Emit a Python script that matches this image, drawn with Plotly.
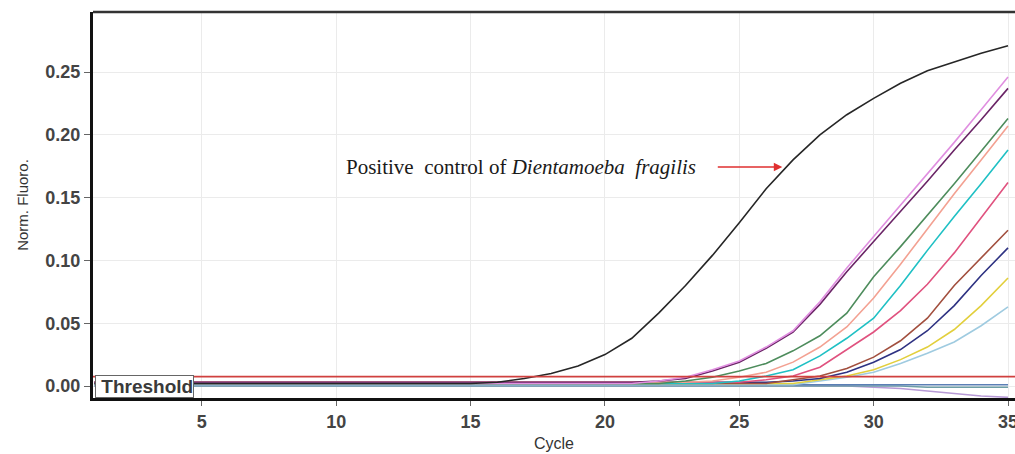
import plotly.graph_objects as go

cycles = list(range(1, 36))

THRESHOLD = 0.0075

positive_control = [0.002, 0.002, 0.002, 0.002, 0.002, 0.002, 0.002, 0.002, 0.002, 0.002,
                    0.002, 0.002, 0.002, 0.002, 0.002, 0.003, 0.006, 0.010, 0.016, 0.025,
                    0.038, 0.058, 0.080, 0.104, 0.130, 0.157, 0.180, 0.200, 0.216, 0.229,
                    0.241, 0.251, 0.258, 0.265, 0.271]

s_pink = [0.002, 0.002, 0.002, 0.002, 0.002, 0.002, 0.002, 0.002, 0.002, 0.002,
          0.002, 0.002, 0.002, 0.002, 0.002, 0.002, 0.002, 0.002, 0.002, 0.002,
          0.002, 0.004, 0.007, 0.013, 0.020, 0.031, 0.044, 0.067, 0.094, 0.119,
          0.144, 0.169, 0.194, 0.220, 0.246]
s_purple = [0.003, 0.003, 0.003, 0.003, 0.003, 0.003, 0.003, 0.003, 0.003, 0.003,
            0.003, 0.003, 0.003, 0.003, 0.003, 0.003, 0.003, 0.003, 0.003, 0.003,
            0.003, 0.004, 0.006, 0.012, 0.019, 0.030, 0.043, 0.065, 0.091, 0.115,
            0.139, 0.163, 0.188, 0.212, 0.237]
s_green = [0.002, 0.002, 0.002, 0.002, 0.002, 0.002, 0.002, 0.002, 0.002, 0.002,
           0.002, 0.002, 0.002, 0.002, 0.002, 0.002, 0.002, 0.002, 0.002, 0.002,
           0.002, 0.002, 0.004, 0.007, 0.012, 0.018, 0.028, 0.040, 0.058, 0.087,
           0.111, 0.136, 0.161, 0.187, 0.213]
s_salmon = [0.003, 0.003, 0.003, 0.003, 0.003, 0.003, 0.003, 0.003, 0.003, 0.003,
            0.003, 0.003, 0.003, 0.003, 0.003, 0.003, 0.003, 0.003, 0.003, 0.003,
            0.003, 0.003, 0.003, 0.004, 0.007, 0.011, 0.019, 0.031, 0.047, 0.070,
            0.097, 0.125, 0.153, 0.180, 0.207]
s_cyan = [0.002, 0.002, 0.002, 0.002, 0.002, 0.002, 0.002, 0.002, 0.002, 0.002,
          0.002, 0.002, 0.002, 0.002, 0.002, 0.002, 0.002, 0.002, 0.002, 0.002,
          0.002, 0.002, 0.002, 0.002, 0.004, 0.008, 0.013, 0.024, 0.038, 0.054,
          0.080, 0.108, 0.135, 0.161, 0.188]
s_pinkred = [0.003, 0.003, 0.003, 0.003, 0.003, 0.003, 0.003, 0.003, 0.003, 0.003,
             0.003, 0.003, 0.003, 0.003, 0.003, 0.003, 0.003, 0.003, 0.003, 0.003,
             0.003, 0.003, 0.003, 0.003, 0.003, 0.005, 0.008, 0.015, 0.029, 0.043,
             0.060, 0.081, 0.106, 0.134, 0.162]
s_brown = [0.002, 0.002, 0.002, 0.002, 0.002, 0.002, 0.002, 0.002, 0.002, 0.002,
           0.002, 0.002, 0.002, 0.002, 0.002, 0.002, 0.002, 0.002, 0.002, 0.002,
           0.002, 0.002, 0.002, 0.002, 0.002, 0.002, 0.005, 0.008, 0.014, 0.023,
           0.036, 0.054, 0.080, 0.102, 0.124]
s_navy = [0.003, 0.003, 0.003, 0.003, 0.003, 0.003, 0.003, 0.003, 0.003, 0.003,
          0.003, 0.003, 0.003, 0.003, 0.003, 0.003, 0.003, 0.003, 0.003, 0.003,
          0.003, 0.003, 0.003, 0.003, 0.003, 0.003, 0.004, 0.006, 0.011, 0.019,
          0.029, 0.044, 0.064, 0.088, 0.110]
s_yellow = [0.002, 0.002, 0.002, 0.002, 0.002, 0.002, 0.002, 0.002, 0.002, 0.002,
            0.002, 0.002, 0.002, 0.002, 0.002, 0.002, 0.002, 0.002, 0.002, 0.002,
            0.002, 0.002, 0.002, 0.002, 0.002, 0.002, 0.002, 0.005, 0.008, 0.013,
            0.021, 0.031, 0.045, 0.064, 0.086]
s_lightblue = [0.001, 0.001, 0.001, 0.001, 0.001, 0.001, 0.001, 0.001, 0.001, 0.001,
               0.001, 0.001, 0.001, 0.001, 0.001, 0.001, 0.001, 0.001, 0.001, 0.001,
               0.001, 0.001, 0.001, 0.001, 0.001, 0.001, 0.001, 0.004, 0.007, 0.011,
               0.018, 0.026, 0.035, 0.048, 0.063]
neg_steel = [0.001, 0.001, 0.001, 0.001, 0.001, 0.001, 0.001, 0.001, 0.001, 0.001,
             0.001, 0.001, 0.001, 0.001, 0.001, 0.001, 0.001, 0.001, 0.001, 0.001,
             0.001, 0.001, 0.001, 0.001, 0.001, 0.001, 0.001, 0.001, 0.001, 0.001,
             0.001, 0.001, 0.001, 0.001, 0.001]
neg_teal = [0.000, 0.000, 0.000, 0.000, 0.000, 0.000, 0.000, 0.000, 0.000, 0.000,
            0.000, 0.000, 0.000, 0.000, 0.000, 0.000, 0.000, 0.000, 0.000, 0.000,
            0.000, 0.000, 0.000, 0.000, 0.000, 0.000, 0.000, 0.000, 0.000, 0.000,
            0.000, -0.001, -0.001, -0.001, -0.001]
neg_lavender = [0.000, 0.000, 0.000, 0.000, 0.000, 0.000, 0.000, 0.000, 0.000, 0.000,
                0.000, 0.000, 0.000, 0.000, 0.000, 0.000, 0.000, 0.000, 0.000, 0.000,
                0.000, 0.000, 0.000, 0.000, 0.000, 0.000, 0.000, 0.000, 0.000, -0.001,
                -0.002, -0.004, -0.006, -0.008, -0.009]

series = [
    ("neg_lavender", neg_lavender, "#b79ad6"),
    ("neg_teal", neg_teal, "#6e9fa6"),
    ("neg_steel", neg_steel, "#5b7fb5"),
    ("lightblue", s_lightblue, "#9fcbe0"),
    ("yellow", s_yellow, "#e2cf3c"),
    ("navy", s_navy, "#2e3282"),
    ("brown", s_brown, "#a24f3e"),
    ("pinkred", s_pinkred, "#e0527f"),
    ("cyan", s_cyan, "#1fc0c4"),
    ("salmon", s_salmon, "#f3a192"),
    ("green", s_green, "#4d8c5c"),
    ("purple", s_purple, "#6a2466"),
    ("pink", s_pink, "#e08fe0"),
    ("positive", positive_control, "#262626"),
]

x_ticks = [5, 10, 15, 20, 25, 30, 35]
y_ticks = [0.00, 0.05, 0.10, 0.15, 0.20, 0.25]

fig = go.Figure()
for name, vals, col in series:
    fig.add_trace(go.Scatter(x=cycles, y=vals, mode="lines", name=name,
                             line=dict(color=col, width=1.6), showlegend=False,
                             hoverinfo="skip"))

fig.update_layout(
    width=1015, height=454,
    margin=dict(l=93, r=0, t=12, b=56, autoexpand=False),
    paper_bgcolor="white", plot_bgcolor="white",
    font=dict(family="Arial, Liberation Sans, sans-serif", color="#444"),
    xaxis=dict(range=[0.95, 35.26], tickvals=x_ticks, showgrid=True,
               gridcolor="#ebebeb", gridwidth=1, zeroline=False,
               showline=True, linecolor="#111", linewidth=3,
               ticks="outside", ticklen=5, tickcolor="#666",
               ticklabeloverflow="allow",
               tickfont=dict(size=18, weight="bold", color="#444"),
               title=dict(text="Cycle", font=dict(size=16, color="#333"), standoff=8)),
    yaxis=dict(range=[-0.00955, 0.2978], tickvals=y_ticks, tickformat=".2f",
               showgrid=True, gridcolor="#ebebeb", gridwidth=1, zeroline=False,
               showline=True, linecolor="#111", linewidth=3,
               ticks="outside", ticklen=6, tickcolor="#666",
               tickfont=dict(size=18, weight="bold", color="#444"),
               title=dict(text="Norm. Fluoro.", font=dict(size=15, color="#333"), standoff=14)),
)

# top border
fig.add_shape(type="line", xref="paper", yref="paper", x0=0, x1=1, y0=1, y1=1,
              line=dict(color="#333", width=2.5))
# threshold line
fig.add_shape(type="line", xref="paper", yref="y", x0=0, x1=1,
              y0=THRESHOLD, y1=THRESHOLD, line=dict(color="#d0403f", width=1.6))

fig.add_annotation(xref="paper", yref="paper", x=0.002, y=0.0, xanchor="left", yanchor="bottom",
                   text="&nbsp;<b>Threshold</b>", showarrow=False,
                   font=dict(size=19, color="#3a3a3a"),
                   bgcolor="white", bordercolor="#666", borderwidth=1, borderpad=0)

fig.add_annotation(x=26.6, y=0.1744, ax=-66, ay=0, text="", showarrow=True,
                   arrowhead=2, arrowsize=1.3, arrowwidth=1.3, arrowcolor="#e03030")

fig.add_annotation(x=23.45, y=0.1744, xanchor="right", yanchor="middle", showarrow=False,
                   text="Positive  control of <i>Dientamoeba  fragilis</i>",
                   font=dict(family="Liberation Serif, Times New Roman, serif", size=21, color="#1a1a1a"))

fig.write_html("out.html", config={"displayModeBar": False},
               post_script="document.body.style.margin='0';document.body.style.overflow='hidden';")
